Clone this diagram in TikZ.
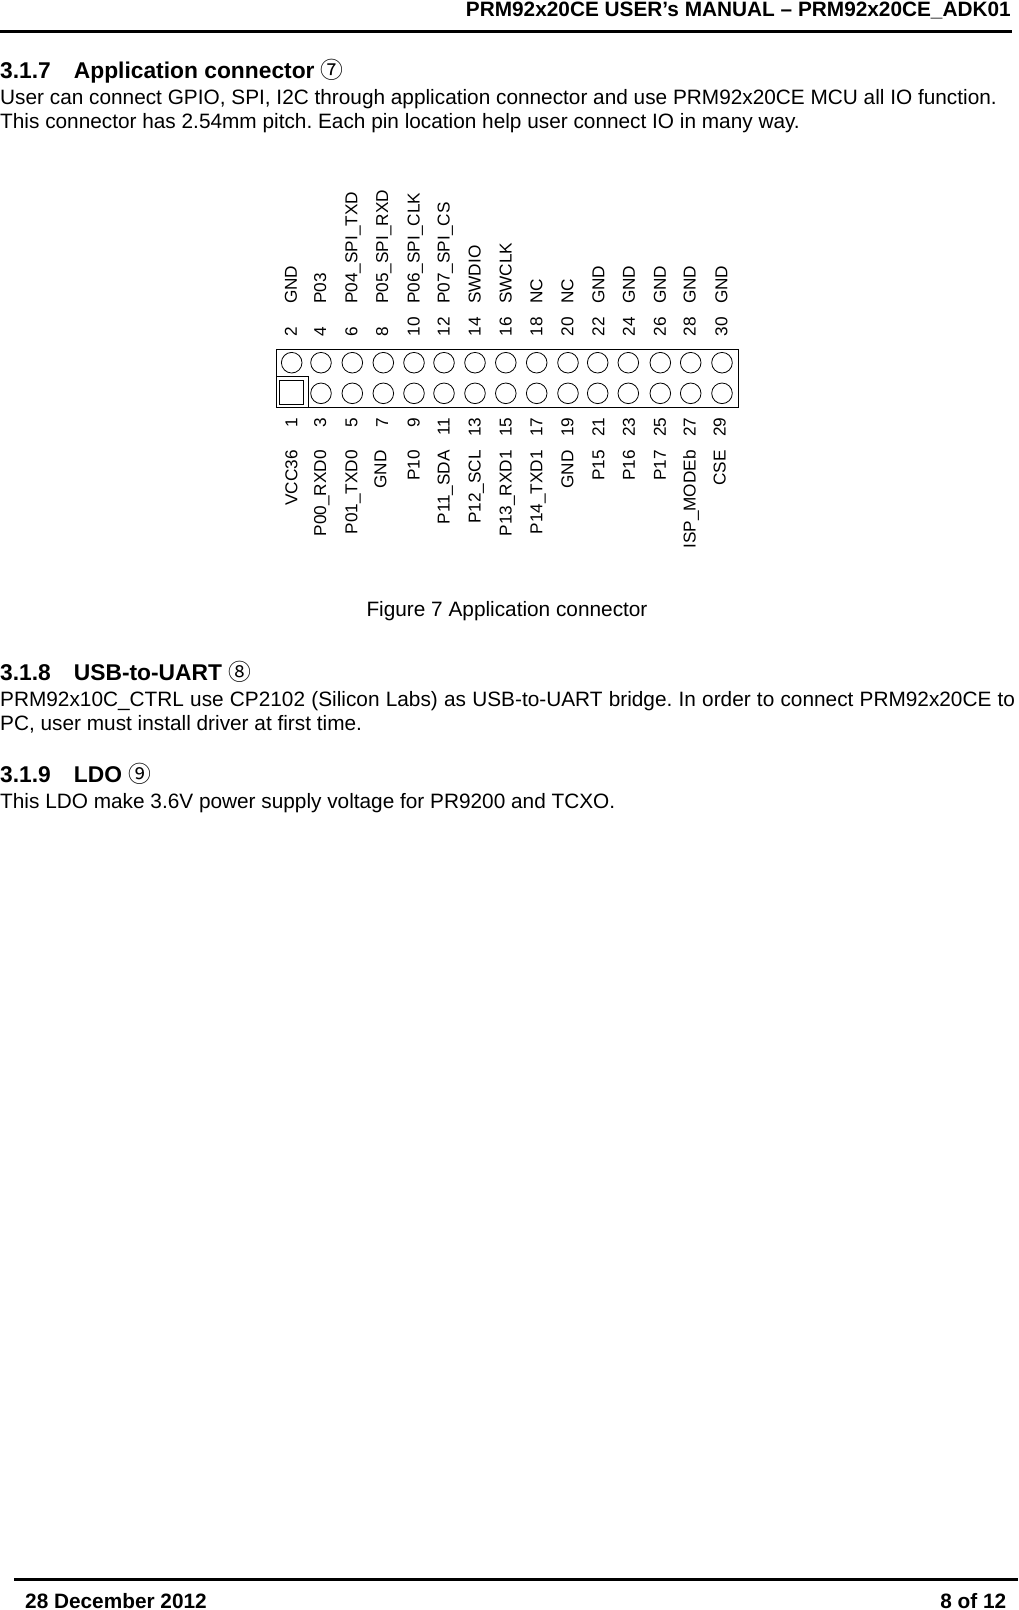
\documentclass[tikz,border=0pt]{standalone}
\usepackage{fontspec}
\setmainfont{Liberation Sans}
\newfontfamily\circfont{Noto Sans CJK SC}
\frenchspacing
\tikzset{
  txt/.style={anchor=base west, inner sep=0pt, font=\fontsize{20.8}{24}\selectfont},
  heading/.style={anchor=base west, inner sep=0pt, font=\fontsize{22.8}{26}\selectfont\bfseries},
  edge/.style={inner sep=0pt, text depth=0pt, font=\fontsize{20.8}{24}\selectfont\bfseries},
  rulebar/.style={line width=3.4pt},
  pin/.style={circle, draw, line width=0.8pt, minimum size=20.6pt, inner sep=0pt},
  boxpart/.style={rectangle, draw, line width=1pt, inner sep=0pt},
  uplabel/.style={rotate=90, anchor=west, inner sep=0pt, text height=12.3pt, text depth=0pt, font=\fontsize{17.2}{19}\selectfont},
  downlabel/.style={rotate=90, anchor=east, inner sep=0pt, text height=12.3pt, text depth=0pt, font=\fontsize{17.2}{19}\selectfont}
}
\begin{document}
\begin{tikzpicture}[x=1pt, y=-1pt]
\useasboundingbox (0,0) rectangle (1018,1610);

\node[edge, anchor=base east] (head) at (1011,16) {PRM92x20CE USER’s MANUAL – PRM92x20CE\_ADK01};
\coordinate (headl) at (0,31.5);
\coordinate (headr) at (1012,31.5);
\draw [rulebar] (headl) -- (headr);

\node[heading] (h7) at (0,78) {3.1.7\hspace{23pt}Application connector {\circfont\mdseries ⑦}};
\node[txt] (a1) at (0,104) {User can connect GPIO, SPI, I2C through application connector and use PRM92x20CE MCU all IO function.};
\node[txt] (a2) at (0,128) {This connector has 2.54mm pitch. Each pin location help user connect IO in many way.};

\node[boxpart, minimum width=462.4pt, minimum height=57.6pt] (frame) at (507.5,378.5) {};
\node[boxpart, minimum width=32.7pt, minimum height=31pt] (key) at (292.35,391.8) {};
\node[boxpart, minimum size=24.4pt] (p1) at (291.5,392.5) {};

\node[pin] (p2) at (291.7,362.7) {};
\node[pin] (p3) at (321,393.3) {};
\node[pin] (p4) at (321,362.7) {};
\node[pin] (p5) at (352.3,393.3) {};
\node[pin] (p6) at (352.3,362.7) {};
\node[pin] (p7) at (383.3,393.3) {};
\node[pin] (p8) at (383.3,362.7) {};
\node[pin] (p9) at (414,393.3) {};
\node[pin] (p10) at (414,362.7) {};
\node[pin] (p11) at (444,393.3) {};
\node[pin] (p12) at (444,362.7) {};
\node[pin] (p13) at (475,393.3) {};
\node[pin] (p14) at (475,362.7) {};
\node[pin] (p15) at (505.8,393.3) {};
\node[pin] (p16) at (505.8,362.7) {};
\node[pin] (p17) at (536.7,393.3) {};
\node[pin] (p18) at (536.7,362.7) {};
\node[pin] (p19) at (568,393.3) {};
\node[pin] (p20) at (568,362.7) {};
\node[pin] (p21) at (597.7,393.3) {};
\node[pin] (p22) at (597.7,362.7) {};
\node[pin] (p23) at (628.3,393.3) {};
\node[pin] (p24) at (628.3,362.7) {};
\node[pin] (p25) at (660.3,393.3) {};
\node[pin] (p26) at (660.3,362.7) {};
\node[pin] (p27) at (690.7,393.3) {};
\node[pin] (p28) at (690.7,362.7) {};
\node[pin] (p29) at (722,393.3) {};
\node[pin] (p30) at (722,362.7) {};

\node[uplabel] (n2) at (290.7,336.5) {2};
\node[uplabel] (n4) at (320,336.5) {4};
\node[uplabel] (n6) at (351.2,336.5) {6};
\node[uplabel] (n8) at (382,336.5) {8};
\node[uplabel] (n10) at (413.5,336.5) {10};
\node[uplabel] (n12) at (443.5,336.5) {12};
\node[uplabel] (n14) at (474.5,336.5) {14};
\node[uplabel] (n16) at (505.5,336.5) {16};
\node[uplabel] (n18) at (536.2,336.5) {18};
\node[uplabel] (n20) at (567.2,336.5) {20};
\node[uplabel] (n22) at (598.2,336.5) {22};
\node[uplabel] (n24) at (628.8,336.5) {24};
\node[uplabel] (n26) at (659.8,336.5) {26};
\node[uplabel] (n28) at (689.5,336.5) {28};
\node[uplabel] (n30) at (721.2,336.5) {30};

\node[uplabel] (s2) at (290.7,304) {GND};
\node[uplabel] (s4) at (320,304) {P03};
\node[uplabel] (s6) at (351.2,304) {P04\_SPI\_TXD};
\node[uplabel] (s8) at (382,304) {P05\_SPI\_RXD};
\node[uplabel] (s10) at (413.5,304) {P06\_SPI\_CLK};
\node[uplabel] (s12) at (443.5,304) {P07\_SPI\_CS};
\node[uplabel] (s14) at (474.5,304) {SWDIO};
\node[uplabel] (s16) at (505.5,304) {SWCLK};
\node[uplabel] (s18) at (536.2,304) {NC};
\node[uplabel] (s20) at (567.2,304) {NC};
\node[uplabel] (s22) at (598.2,304) {GND};
\node[uplabel] (s24) at (628.8,304) {GND};
\node[uplabel] (s26) at (659.8,304) {GND};
\node[uplabel] (s28) at (689.5,304) {GND};
\node[uplabel] (s30) at (721.2,304) {GND};

\node[downlabel] (n1) at (291.2,417.5) {1};
\node[downlabel] (n3) at (320,417.5) {3};
\node[downlabel] (n5) at (351.2,417.5) {5};
\node[downlabel] (n7) at (382,417.5) {7};
\node[downlabel] (n9) at (413.5,417.5) {9};
\node[downlabel] (n11) at (443.5,417.5) {11};
\node[downlabel] (n13) at (474.5,417.5) {13};
\node[downlabel] (n15) at (505.5,417.5) {15};
\node[downlabel] (n17) at (536.2,417.5) {17};
\node[downlabel] (n19) at (567.2,417.5) {19};
\node[downlabel] (n21) at (598.2,417.5) {21};
\node[downlabel] (n23) at (628.8,417.5) {23};
\node[downlabel] (n25) at (659.8,417.5) {25};
\node[downlabel] (n27) at (689.5,417.5) {27};
\node[downlabel] (n29) at (719.5,417.5) {29};

\node[downlabel] (s1) at (291.2,450) {VCC36};
\node[downlabel] (s3) at (320,450) {P00\_RXD0};
\node[downlabel] (s5) at (351.2,450) {P01\_TXD0};
\node[downlabel] (s7) at (380.2,450) {GND};
\node[downlabel] (s9) at (413.5,450) {P10};
\node[downlabel] (s11) at (443.5,450) {P11\_SDA};
\node[downlabel] (s13) at (474.5,450) {P12\_SCL};
\node[downlabel] (s15) at (505.5,450) {P13\_RXD1};
\node[downlabel] (s17) at (536.2,450) {P14\_TXD1};
\node[downlabel] (s19) at (567.2,450) {GND};
\node[downlabel] (s21) at (598.2,450) {P15};
\node[downlabel] (s23) at (628.8,450) {P16};
\node[downlabel] (s25) at (659.8,450) {P17};
\node[downlabel] (s27) at (689.5,450) {ISP\_MODEb};
\node[downlabel] (s29) at (719.5,450) {CSE};

\node[txt, anchor=base] (cap) at (507,616) {Figure 7 Application connector};

\node[heading] (h8) at (0,680.5) {3.1.8\hspace{23pt}USB-to-UART {\circfont\mdseries ⑧}};
\node[txt] (b1) at (0,706) {\makebox[1015pt][s]{PRM92x10C\_CTRL use CP2102 (Silicon Labs) as USB-to-UART bridge. In order to connect PRM92x20CE to}};
\node[txt] (b2) at (0,730) {PC, user must install driver at first time.};

\node[heading] (h9) at (0,782) {3.1.9\hspace{23pt}LDO {\circfont\mdseries ⑨}};
\node[txt] (c1) at (0,808) {This LDO make 3.6V power supply voltage for PR9200 and TCXO.};

\coordinate (footl) at (14,1579.5);
\coordinate (footr) at (1018,1579.5);
\draw [rulebar] (footl) -- (footr);
\node[edge, anchor=base west] (date) at (25,1608.5) {28 December 2012};
\node[edge, anchor=base east] (page) at (1006.5,1608.5) {8 of 12};
\end{tikzpicture}
\end{document}
